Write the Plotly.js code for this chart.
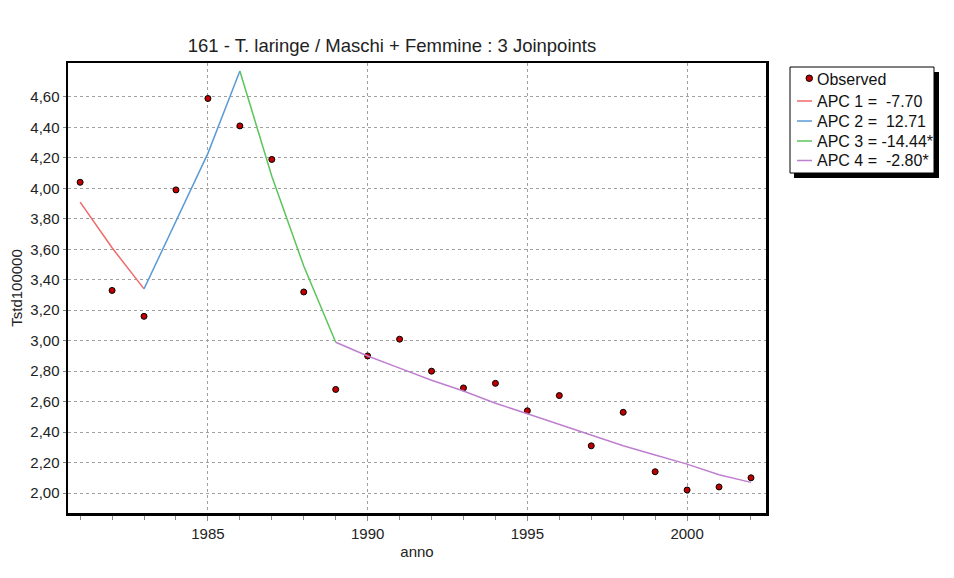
<!DOCTYPE html>
<html>
<head>
<meta charset="utf-8">
<script src="https://cdn.plot.ly/plotly-3.0.1.min.js"></script>
<style>html,body{margin:0;padding:0;background:#fff;}#chart{width:954px;height:578px;}</style>
</head>
<body>
<div id="chart"></div>
<script>
// Observed data
const years = [1981,1982,1983,1984,1985,1986,1987,1988,1989,1990,1991,1992,1993,1994,1995,1996,1997,1998,1999,2000,2001,2002];
const observed = [4.04,3.33,3.16,3.99,4.59,4.41,4.19,3.32,2.68,2.90,3.01,2.80,2.69,2.72,2.54,2.64,2.31,2.53,2.14,2.02,2.04,2.10];

// Fitted joinpoint segments
const seg1Years = [1981,1982,1983];
const seg1Vals  = [3.91,3.61,3.34];
const seg2Years = [1983,1984,1985,1986];
const seg2Vals  = [3.34,3.78,4.23,4.77];
const seg3Years = [1986,1987,1988,1989];
const seg3Vals  = [4.77,4.08,3.49,2.99];
const seg4Years = [1989,1990,1991,1992,1993,1994,1995,1996,1997,1998,1999,2000,2001,2002];
const seg4Vals  = [2.99,2.90,2.82,2.74,2.67,2.59,2.52,2.45,2.38,2.31,2.25,2.19,2.12,2.07];

const legendNames = ['Observed','APC 1 =  -7.70','APC 2 =  12.71','APC 3 = -14.44*','APC 4 =  -2.80*'];
const segColors = ['#f06a6a','#5b9bd5','#5cc45c','#bf7fd0'];
const yTicks = [2.0,2.2,2.4,2.6,2.8,3.0,3.2,3.4,3.6,3.8,4.0,4.2,4.4,4.6];
const xTicks = [1985,1990,1995,2000];

const font = 'Liberation Sans, Arial, sans-serif';
const markerColor = '#c00000';

const traces = [
  {x: years, y: observed, mode:'markers', type:'scatter', name: legendNames[0],
   marker:{color:markerColor, size:6, line:{color:'#000', width:1}}},
  {x: seg1Years, y: seg1Vals, mode:'lines', type:'scatter', name: legendNames[1], line:{color:segColors[0], width:1.5}},
  {x: seg2Years, y: seg2Vals, mode:'lines', type:'scatter', name: legendNames[2], line:{color:segColors[1], width:1.5}},
  {x: seg3Years, y: seg3Vals, mode:'lines', type:'scatter', name: legendNames[3], line:{color:segColors[2], width:1.5}},
  {x: seg4Years, y: seg4Vals, mode:'lines', type:'scatter', name: legendNames[4], line:{color:segColors[3], width:1.5}}
];

// legend drawn as layout decoration (pixel -> paper helpers)
const L = 68, R = 766, T = 63, B = 513;
const px = v => (v - L) / (R - L);
const py = v => (B - v) / (B - T);
const rowY = [79, 101, 121, 141, 160.5];

const shapes = [
  {type:'rect', xref:'paper', yref:'paper', x0:px(794), x1:px(939), y0:py(178), y1:py(72), fillcolor:'#000', line:{width:0}, layer:'above'},
  {type:'rect', xref:'paper', yref:'paper', x0:px(790), x1:px(934), y0:py(173), y1:py(67), fillcolor:'#fff', line:{color:'#000', width:1}, layer:'above'},
  {type:'circle', xref:'paper', yref:'paper', x0:px(806), x1:px(812.5), y0:py(81.5), y1:py(75), fillcolor:markerColor, line:{color:'#000', width:1}, layer:'above'}
];
for (let i = 0; i < 4; i++) {
  shapes.push({type:'line', xref:'paper', yref:'paper', x0:px(797), x1:px(812), y0:py(rowY[i+1]), y1:py(rowY[i+1]),
               line:{color:segColors[i], width:1.5}, layer:'above'});
}
const annotations = legendNames.map((t, i) => ({
  text:t, xref:'paper', yref:'paper', x:px(815), y:py(rowY[i]), xanchor:'left', yanchor:'middle',
  showarrow:false, font:{family:font, size:16, color:'#111'}
}));

const layout = {
  width:954, height:578,
  margin:{l:L, r:954-R, t:T, b:578-B},
  paper_bgcolor:'#fff', plot_bgcolor:'#fff',
  separators: ',.',
  font:{family:font, size:15, color:'#222'},
  title:{text:'161 - T. laringe / Maschi + Femmine : 3 Joinpoints', x:392/954, xref:'container', xanchor:'center', y:1-46/578, yref:'container', yanchor:'middle', font:{size:18.5, color:'#222', family:font}},
  xaxis:{
    range:[1980.62, 2002.47], tickvals:xTicks, ticktext:xTicks.map(String),
    showgrid:true, gridcolor:'#a0a0a0', griddash:'dot', gridwidth:1,
    ticks:'outside', ticklen:5, tickcolor:'#888',
    minor:{dtick:1, tick0:1981, ticks:'outside', ticklen:4, tickcolor:'#888', showgrid:false},
    showline:true, linecolor:'#000', linewidth:2.5, mirror:true, zeroline:false,
    title:{text:'anno', font:{size:15, color:'#222'}, standoff:6},
    tickfont:{size:15, color:'#222'}
  },
  yaxis:{
    range:[1.869, 4.823], tickvals:yTicks, tickformat:'.2f',
    showgrid:true, gridcolor:'#a0a0a0', griddash:'dot', gridwidth:1,
    ticks:'outside', ticklen:3, tickcolor:'#888',
    showline:true, linecolor:'#000', linewidth:2.5, mirror:true, zeroline:false,
    title:{text:'Tstd100000', font:{size:15, color:'#222'}, standoff:4},
    tickfont:{size:15, color:'#222'}
  },
  showlegend:false,
  shapes: shapes,
  annotations: annotations
};

Plotly.newPlot('chart', traces, layout, {displayModeBar:false, staticPlot:true});
</script>
</body>
</html>
